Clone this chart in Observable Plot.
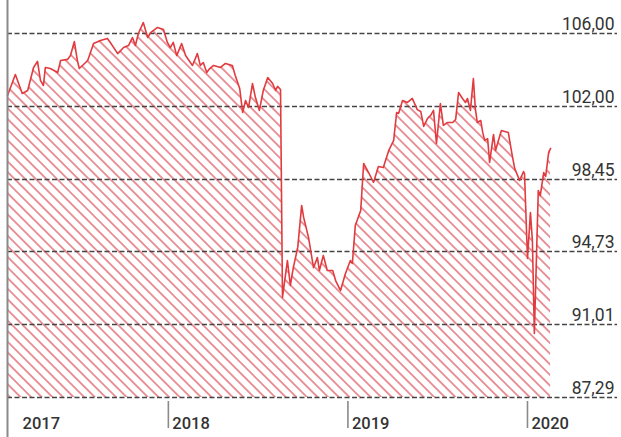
<!DOCTYPE html>
<html><head><meta charset="utf-8">
<script src="https://cdn.jsdelivr.net/npm/d3@7"></script>
<script src="https://cdn.jsdelivr.net/npm/@observablehq/plot@0.6"></script>
<style>html,body{margin:0;padding:0;background:#fff}</style>
</head><body><div id="chart"></div>
<script>
const dates = [
"2017-02-08","2017-02-24","2017-03-10","2017-03-21","2017-04-02","2017-04-10","2017-04-16","2017-04-22","2017-04-26","2017-05-06",
"2017-05-21","2017-05-27","2017-06-10","2017-06-16","2017-06-24","2017-06-30","2017-07-04","2017-07-21","2017-08-02","2017-08-16",
"2017-08-30","2017-09-05","2017-09-20","2017-10-02","2017-10-12","2017-10-20","2017-10-26","2017-11-01","2017-11-11","2017-11-20",
"2017-11-26","2017-12-10","2017-12-22","2017-12-30","2018-01-05","2018-01-11","2018-01-18","2018-01-28","2018-02-05","2018-02-19",
"2018-03-01","2018-03-07","2018-03-13","2018-03-20","2018-03-26","2018-04-03","2018-04-17","2018-04-27","2018-05-11","2018-05-17",
"2018-05-26","2018-06-01","2018-06-07","2018-06-13","2018-06-21","2018-06-27","2018-07-05","2018-07-13","2018-07-22","2018-08-01",
"2018-08-07","2018-08-11","2018-08-17","2018-08-21","2018-08-31","2018-09-06","2018-09-12","2018-09-21","2018-09-29","2018-10-03",
"2018-10-13","2018-10-23","2018-10-31","2018-11-04","2018-11-12","2018-11-20","2018-12-01","2018-12-07","2018-12-17","2018-12-27",
"2019-01-06","2019-01-10","2019-01-16","2019-01-27","2019-02-02","2019-02-12","2019-02-22","2019-03-04","2019-03-14","2019-03-25",
"2019-04-04","2019-04-10","2019-04-14","2019-04-22","2019-05-02","2019-05-12","2019-05-22","2019-05-29","2019-06-04","2019-06-12",
"2019-06-18","2019-06-24","2019-06-30","2019-07-08","2019-07-14","2019-07-22","2019-08-02","2019-08-08","2019-08-14","2019-08-22",
"2019-08-28","2019-09-01","2019-09-07","2019-09-13","2019-09-17","2019-09-21","2019-09-28","2019-10-02","2019-10-06","2019-10-12",
"2019-10-16","2019-10-24","2019-10-28","2019-11-03","2019-11-09","2019-11-23","2019-11-30","2019-12-06","2019-12-16","2019-12-24",
"2019-12-26","2020-01-01","2020-01-07","2020-01-11","2020-01-15","2020-01-23","2020-01-27","2020-02-03","2020-02-07","2020-02-13",
"2020-02-17"
];
const values = [
102.60,103.75,102.71,102.88,104.14,104.47,103.43,103.15,104.14,104.08,
103.86,104.52,104.58,104.79,105.56,104.52,104.08,104.52,105.45,105.62,
105.73,105.51,104.90,105.23,105.34,105.78,105.34,106.00,106.60,105.78,
106.05,106.33,106.22,105.51,105.23,105.51,104.79,105.45,104.79,104.25,
104.90,104.25,104.41,103.86,104.08,104.25,104.14,104.36,104.25,103.70,
102.99,101.71,102.33,101.95,103.26,102.49,101.81,102.88,103.59,103.26,
102.88,103.10,102.93,92.39,94.27,93.00,93.91,94.94,97.11,96.49,
95.45,93.91,94.42,93.76,94.53,93.76,93.76,93.25,92.74,93.61,
94.27,94.12,96.07,96.85,99.23,98.79,98.30,99.08,99.03,99.86,
100.35,101.71,101.66,102.33,102.22,102.44,101.85,101.76,101.03,101.42,
101.56,101.81,100.20,102.16,101.08,101.22,101.22,101.37,102.77,102.44,
102.22,102.44,101.81,103.53,101.90,101.22,101.32,100.74,100.35,100.44,
99.28,100.64,99.86,100.35,100.83,100.74,99.76,98.99,98.40,98.84,
98.74,94.37,96.74,95.30,90.55,97.88,97.62,98.79,98.60,99.76,
99.96
];
const yTickValues = [87.29, 91.01, 94.73, 98.45, 102.00, 106.00];
const yTickLabels = ["87,29", "91,01", "94,73", "98,45", "102,00", "106,00"];
const yearLabels = ["2017", "2018", "2019", "2020"];
const yearDates = ["2017-02-08", "2018-01-01", "2019-01-01", "2020-01-01"];
const xDomain = ["2017-02-08", "2020-07-02"];

const data = dates.map((d, i) => ({date: new Date(d), value: values[i]}));
const years = yearLabels.map((t, i) => ({label: t, date: new Date(yearDates[i])}));

function hatchDefs() {
  const ns = "http://www.w3.org/2000/svg";
  const defs = document.createElementNS(ns, "defs");
  const p = document.createElementNS(ns, "pattern");
  p.setAttribute("id", "hatch");
  p.setAttribute("patternUnits", "userSpaceOnUse");
  p.setAttribute("width", "7.5");
  p.setAttribute("height", "7.5");
  p.setAttribute("patternTransform", "rotate(-45)");
  const l = document.createElementNS(ns, "line");
  l.setAttribute("x1", "3.75"); l.setAttribute("y1", "-1");
  l.setAttribute("x2", "3.75"); l.setAttribute("y2", "8.5");
  l.setAttribute("stroke", "#d6404a");
  l.setAttribute("stroke-width", "1.1");
  p.appendChild(l);
  defs.appendChild(p);
  return defs;
}

const chart = Plot.plot({
  width: 621,
  height: 437,
  marginTop: 0,
  marginBottom: 0,
  marginLeft: 7,
  marginRight: 4,
  style: {fontFamily: "Roboto, sans-serif", background: "#fff"},
  x: {type: "utc", domain: xDomain.map(d => new Date(d)), range: [7, 617], axis: null},
  y: {type: "linear", domain: yTickValues, range: [397, 324, 251, 179, 106, 33], axis: null},
  marks: [
    hatchDefs,
    Plot.areaY(data, {x: "date", y1: yTickValues[0], y2: "value", fill: "url(#hatch)"}),
    Plot.ruleY(yTickValues, {stroke: "#444", strokeWidth: 1.6, strokeDasharray: "5,2.5"}),
    Plot.lineY(data, {x: "date", y: "value", stroke: "#e23b3f", strokeWidth: 1.6}),
    Plot.ruleX([years[0].date], {stroke: "#8a8a8a", strokeWidth: 2}),
    Plot.ruleX(years.slice(1), {x: "date", stroke: "#8a8a8a", strokeWidth: 1.6, insetTop: 401, insetBottom: 9}),
    Plot.text(yTickValues, {y: d => d, text: (d, i) => yTickLabels[i], frameAnchor: "right", textAnchor: "end", lineAnchor: "bottom", dx: -3, dy: -4, fontSize: 17.5, fill: "#333"}),
    Plot.text(years.slice(0, 1), {x: "date", text: "label", frameAnchor: "bottom", textAnchor: "start", lineAnchor: "bottom", dx: 15, dy: -9, fontSize: 16.5, fontWeight: 500, fill: "#333"}),
    Plot.text(years.slice(1), {x: "date", text: "label", frameAnchor: "bottom", textAnchor: "start", lineAnchor: "bottom", dx: 4, dy: -9, fontSize: 16.5, fontWeight: 500, fill: "#333"})
  ]
});
document.getElementById("chart").appendChild(chart);
</script>
</body></html>
